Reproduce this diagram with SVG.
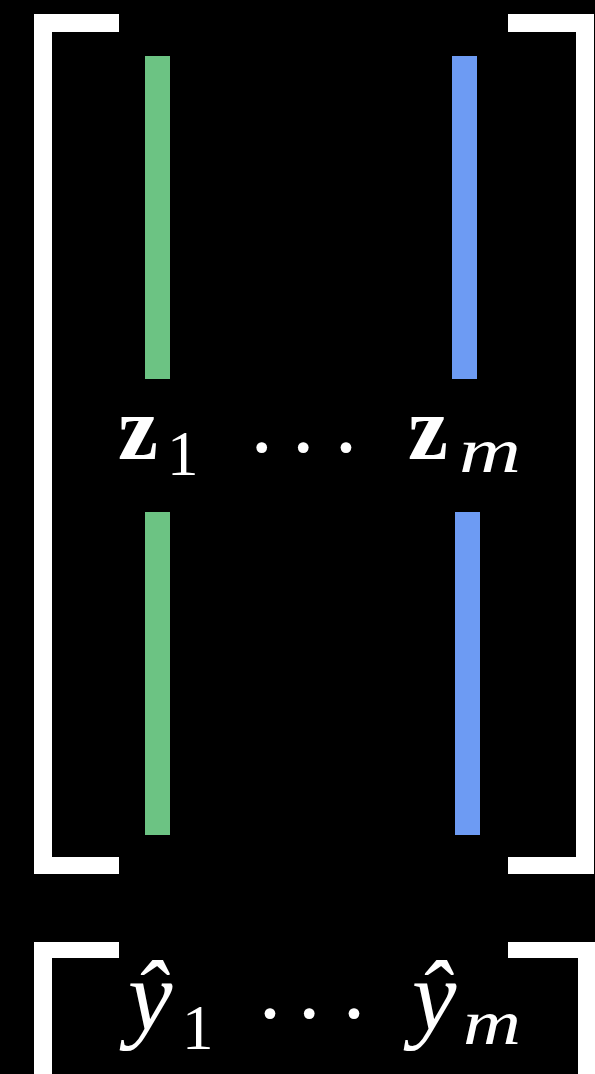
<svg xmlns="http://www.w3.org/2000/svg" width="595" height="1074" viewBox="0 0 595 1074">
<style>
.br{fill:#ffffff;}
.g{fill:#6CC383;}
.b{fill:#6D9BF3;}
.t{fill:#ffffff;font-family:"Liberation Serif","DejaVu Serif",serif;font-size:90px;}
.bf{font-weight:bold;}
.it{font-style:italic;}
.sub{font-size:63px;}
.yh{font-size:100px;}
</style>
<rect width="595" height="1074" fill="#000000"/>
<g id="matrix-z">
<path class="br" d="M34,14 H119 V32 H52 V857 H119 V874 H34 Z"/>
<path class="br" d="M508,14 H594 V874 H508 V857 H576 V32 H508 Z"/>
</g>
<g id="col-1">
<rect class="g" x="145" y="56" width="25" height="323"/>
<rect class="g" x="145" y="512" width="25" height="323"/>
<text class="t" x="118" y="459"><tspan class="bf">z</tspan><tspan class="sub" x="167" y="475">1</tspan></text>
</g>
<g id="col-m">
<rect class="b" x="452" y="56" width="25" height="323"/>
<rect class="b" x="455" y="512" width="25" height="323"/>
<text class="t" x="408" y="459"><tspan class="bf">z</tspan><tspan class="sub it" x="459" y="472" textLength="62" lengthAdjust="spacingAndGlyphs">m</tspan></text>
</g>
<g id="dots-z">
<text class="t" x="261.7 303.3 346" y="478" text-anchor="middle">···</text>
</g>
<g id="matrix-y">
<path class="br" d="M34,942 H119 V958 H52 V1074 H34 Z"/>
<path class="br" d="M508,942 H595 V1074 H578 V958 H508 Z"/>
</g>
<g id="y1">
<text class="t it yh" x="128" y="1030">ŷ<tspan class="sub" style="font-style:normal" x="182" y="1049">1</tspan></text>
</g>
<g id="ym">
<text class="t it yh" x="412" y="1030">ŷ<tspan class="sub" x="463" y="1044" textLength="58" lengthAdjust="spacingAndGlyphs">m</tspan></text>
</g>
<g id="dots-y">
<text class="t" x="270 309.3 354" y="1044" text-anchor="middle">···</text>
</g>
<g id="connectors"></g>
</svg>
